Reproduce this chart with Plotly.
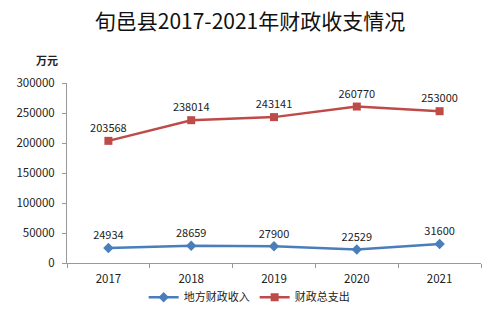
import plotly.graph_objects as go

years = ["2017", "2018", "2019", "2020", "2021"]
income = [24934, 28659, 27900, 22529, 31600]
spending = [203568, 238014, 243141, 260770, 253000]
y_ticks = [0, 50000, 100000, 150000, 200000, 250000, 300000]

fig = go.Figure()
fig.add_trace(go.Scatter(
    x=years, y=income, name="地方财政收入", mode="lines+markers+text",
    line=dict(color="#4A7EBB", width=2.5),
    marker=dict(symbol="diamond", size=8, color="#4A7EBB"),
    text=[str(v) for v in income], textposition="top center",
    textfont=dict(size=11, color="#222"),
))
fig.add_trace(go.Scatter(
    x=years, y=spending, name="财政总支出", mode="lines+markers+text",
    line=dict(color="#BE4B48", width=2.5),
    marker=dict(symbol="square", size=8, color="#BE4B48"),
    text=[str(v) for v in spending], textposition="top center",
    textfont=dict(size=11, color="#222"),
))

fig.update_layout(
    width=500, height=322,
    margin=dict(l=67, r=19, t=83, b=59, autoexpand=False),
    paper_bgcolor="white", plot_bgcolor="white",
    font=dict(family="Noto Sans CJK SC, DejaVu Sans, sans-serif", size=11, color="#222"),
    title=dict(text="旬邑县2017-2021年财政收支情况", x=0.5, xanchor="center",
               y=1 - 22 / 322, yanchor="middle",
               font=dict(family="Noto Sans CJK SC, Liberation Serif, serif", size=21, color="#111")),
    showlegend=True,
    legend=dict(orientation="h", x=0.44, xanchor="center", y=-0.19, yanchor="middle",
                font=dict(size=11), itemwidth=30, traceorder="normal"),
    xaxis=dict(type="category", range=[-0.5, 4.5], showline=True, linecolor="#999",
               linewidth=1, ticks="outside", tickson="boundaries", ticklen=4,
               tickcolor="#999", showgrid=False, tickfont=dict(size=11.5),
               ticklabelstandoff=5),
    yaxis=dict(range=[0, 300000], tickvals=y_ticks, ticktext=[str(v) for v in y_ticks],
               showline=True, linecolor="#999", linewidth=1, ticks="outside",
               ticklen=4, tickcolor="#999", showgrid=False, zeroline=False,
               tickfont=dict(size=11.5), ticklabelstandoff=5),
    annotations=[dict(text="<b>万元</b>", xref="paper", yref="paper", x=-0.017, y=1.128,
                      xanchor="right", yanchor="middle", showarrow=False,
                      font=dict(size=11, color="#222"))],
)

fig.write_html("out.html")
